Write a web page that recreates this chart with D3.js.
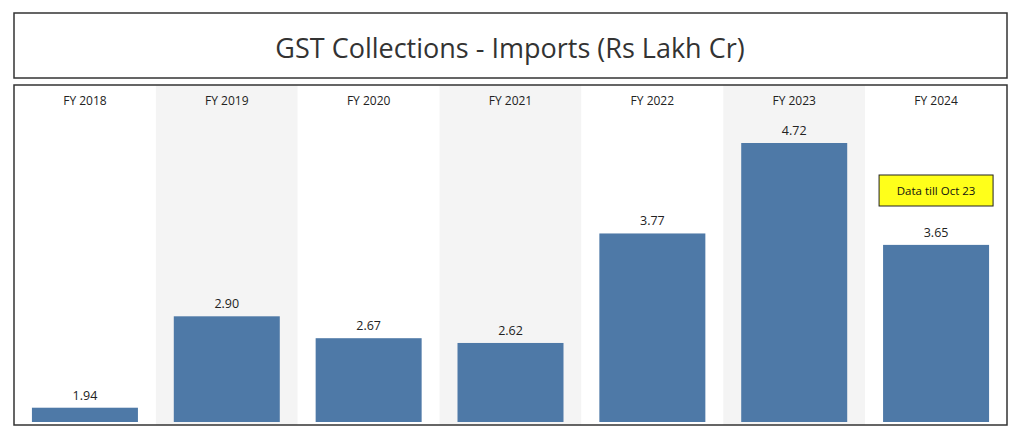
<!DOCTYPE html>
<html><head><meta charset="utf-8">
<script src="https://cdn.jsdelivr.net/npm/d3@7"></script>
<style>body{margin:0;background:#fff;font-family:"Open Sans",Lato,sans-serif;}</style>
</head><body><div id="chart"></div>
<script>
let years = ["FY 2018", "FY 2019", "FY 2020", "FY 2021", "FY 2022", "FY 2023", "FY 2024"];
let values = [1.94, 2.90, 2.67, 2.62, 3.77, 4.72, 3.65];
let note = "Data till Oct 23";

let width = 1024, height = 441;
let svg = d3.select('#chart').append('svg').attr('width', width).attr('height', height);

// title box
svg.append('rect').attr('x', 14).attr('y', 13).attr('width', 993).attr('height', 65)
    .attr('fill', '#fff').attr('stroke', '#333').attr('stroke-width', 1.5);
svg.append('text').attr('x', 510).attr('y', 58).attr('text-anchor', 'middle')
    .attr('font-size', 27).attr('fill', '#333').text("GST Collections - Imports (Rs Lakh Cr)");

let x = d3.scaleBand().domain(years).range([14, 1007]).paddingInner(0).paddingOuter(0);
let y = d3.scaleLinear().domain([1.79, 4.72]).range([422, 143]);

// alternate column shading
svg.selectAll('rect.band').data(years).join('rect')
    .attr('class', 'band')
    .attr('x', d => x(d)).attr('y', 85).attr('width', x.bandwidth()).attr('height', 340)
    .attr('fill', (d, i) => i % 2 ? '#f4f4f4' : '#fff');

svg.selectAll('text.cat').data(years).join('text')
    .attr('class', 'cat')
    .attr('x', d => x(d) + x.bandwidth() / 2).attr('y', 105).attr('text-anchor', 'middle')
    .attr('font-size', 12).attr('fill', '#222').text(d => d);

let bw = 106;
svg.selectAll('rect.bar').data(values).join('rect')
    .attr('class', 'bar')
    .attr('x', (d, i) => x(years[i]) + (x.bandwidth() - bw) / 2)
    .attr('y', d => y(d)).attr('width', bw).attr('height', d => 422 - y(d))
    .attr('fill', '#4e79a7');

svg.selectAll('text.val').data(values).join('text')
    .attr('class', 'val')
    .attr('x', (d, i) => x(years[i]) + x.bandwidth() / 2).attr('y', d => y(d) - 8)
    .attr('text-anchor', 'middle').attr('font-size', 12.5).attr('fill', '#222')
    .text(d => d.toFixed(2));

// annotation
let cx = x(years[6]) + x.bandwidth() / 2;
svg.append('rect').attr('x', cx - 57).attr('y', 175).attr('width', 114).attr('height', 31)
    .attr('fill', '#ffff1a').attr('stroke', '#222').attr('stroke-width', 1);
svg.append('text').attr('x', cx).attr('y', 195).attr('text-anchor', 'middle')
    .attr('font-size', 11.5).attr('fill', '#111').text(note);

// chart frame
svg.append('rect').attr('x', 14).attr('y', 85).attr('width', 993).attr('height', 340)
    .attr('fill', 'none').attr('stroke', '#333').attr('stroke-width', 1.5);
</script></body></html>
